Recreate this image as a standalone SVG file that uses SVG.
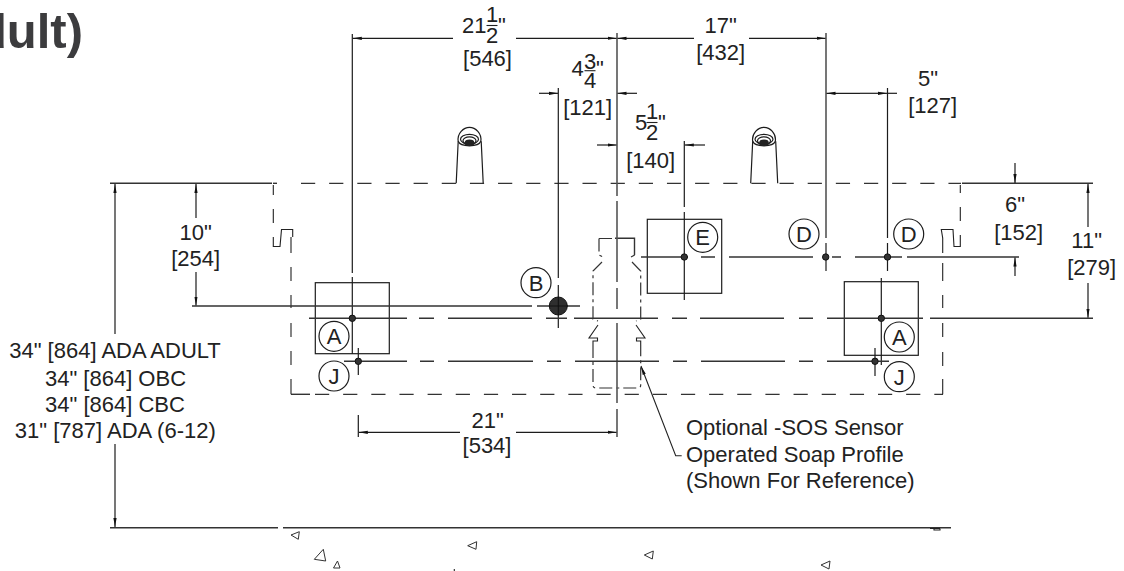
<svg xmlns="http://www.w3.org/2000/svg" width="1124" height="571" viewBox="0 0 1124 571">
<style>
text{font-family:"Liberation Sans",Arial,sans-serif;font-size:22px;fill:#222}
.m{text-anchor:middle}
.t{font-size:49px;font-weight:bold;fill:#3c3c3e;text-anchor:end}
.l{fill:none;stroke:#1c1c1c;stroke-width:1.2}
.c{fill:none;stroke:#555;stroke-width:1.6}
.g{fill:none;stroke:#333;stroke-width:1.4}
.h{fill:none;stroke:#333;stroke-width:1.3;stroke-dasharray:14.2 13.95}
.s{fill:none;stroke:#333;stroke-width:1.2;stroke-dasharray:13 4 3 4}
.b{fill:#fff;stroke:#1c1c1c;stroke-width:1.2}
.k{fill:none;stroke:#222;stroke-width:1.1}
.d{fill:#333;stroke:#111;stroke-width:1}
.a{marker-end:url(#ar)}
.tri{fill:#fff;stroke:#333;stroke-width:1}
</style>
<defs>
<marker id="ar" markerUnits="userSpaceOnUse" markerWidth="10" markerHeight="6" refX="9" refY="2.5" orient="auto"><path d="M0 0.9L9 2.5L0 4.1Z" fill="#111"/></marker>
<g id="spout">
<path class="l" d="M-13.3 0L-11.3 -42M13.7 0L11.7 -42"/>
<path class="l" d="M-11.3 -42C-12.5 -50 -6 -56 0 -56C6 -56 12.5 -50 11.3 -42C9 -36 -9 -36 -11.3 -42Z"/>
<ellipse class="l" cx="0" cy="-44" rx="9" ry="5"/>
<ellipse class="l" cx="0" cy="-42.5" rx="6.5" ry="4"/>
<ellipse cx="0" cy="-40.5" rx="4.8" ry="3.2" fill="#222"/>
</g>
</defs>
<text class="t" x="83" y="48">dult)</text>

<g id="outline">
<path class="g" d="M110 183.3H272M962 183.3H1093M110 527.7H278M283 527.7H951"/>
<path class="h" d="M301 183.3H961"/>
<path class="g" d="M273 183.3H277"/>
<path class="h" d="M315 394.3H943"/>
<path class="g" d="M291 394.3H310"/>
<path class="k" d="M273.3 185V195M273.3 209V223M273.3 237V246.5H280L281.5 229.5H292.7V237M291 237V253M291 267V281M291 295V308M291 323V337M291 351V365M291 379V394.3"/>
<path class="k" d="M960.3 185V193M960.3 207V221M960.3 235V246.5H954L953 229.5H941.3L942.7 238V253M942.7 263V281M942.7 295V308M942.7 323V337M942.7 352V366M942.7 379V394.3"/>
</g>
<g id="spout-left"><use href="#spout" x="469.5" y="183.3"/></g>
<g id="spout-right"><use href="#spout" x="764" y="183.3"/></g>

<g id="box-e"><rect class="b" x="647.3" y="219.3" width="74.4" height="74"/></g>
<g id="box-a-left"><rect class="b" x="315.3" y="282.7" width="74" height="71"/></g>
<g id="box-a-right"><rect class="b" x="844.3" y="281.7" width="74" height="73.6"/></g>

<g id="soap-profile">
<path class="s" d="M599 238.5H615M599 238.5V255L603 257M602 262L593 271V319L598 321"/>
<path class="s" d="M634.7 255L631 257M632 262L640.7 271V319L636 321"/>
<path class="g" d="M615 238.3H634.5V255"/>
<path class="k" d="M598 325L589 338H597.5V341H593V345"/>
<path class="k" d="M636 325L645 338H636.5V341H640.7V345"/>
<path class="s" d="M593 345V385Q593 388 596 388H638Q640.7 388 640.7 385V345"/>
</g>

<g id="connectors">
<path class="c" d="M617 33V196M617 201V282M617 288V309M617 323V403M617 409V437"/>
<path class="c" d="M826 33V238M826 243V271"/>
<path class="l" d="M352.3 34V273M352.3 277V354M558.3 88V278M558.3 285V328M684.3 141V207M684.3 212V300M887.5 88V238M887.5 243V271M881.3 278V365M875 348V376M358.3 348V375M358.3 415V437"/>
<path class="g" d="M192 306H532M537 306H580"/>
<path class="g" d="M309 318.3H407M419 318.3H434M448 318.3H532M546 318.3H567M574 318.3H658M672 318.3H687M700 318.3H784M799 318.3H813M827 318.3H923M930 318.3H1093"/>
<path class="g" d="M344 361.3H407M420 361.3H434M448 361.3H533M547 361.3H561M575 361.3H659M673 361.3H687M701 361.3H785M799 361.3H813M827 361.3H889"/>
<path class="g" d="M641 257H688M701 257H715M729 257H813M832 257H841M855 257H902M907 257H1019"/>
<path class="l a" d="M453 38.3H352.8"/>
<path class="l a" d="M516 38.3H616.5"/><path class="l a" d="M694 38.3H617.5"/>
<path class="l a" d="M749 38.3H825.5"/>
<path class="l a" d="M539 93.3H558"/><path class="l a" d="M637 93.3H617.5"/>
<path class="l a" d="M597 145H616.5"/><path class="l a" d="M705 145H684.8"/>
<path class="l a" d="M860 93.3H826.5"/><path class="l a" d="M860 93.3H887"/><path class="l" d="M887 93.3H897"/>
<path class="l a" d="M1015 163V183"/><path class="l a" d="M1015 276V257.5"/>
<path class="l a" d="M1088 227V184"/><path class="l a" d="M1088 283V317.8"/>
<path class="l a" d="M115 334V184"/><path class="l a" d="M115 444V527"/>
<path class="l a" d="M196 218V184"/><path class="l a" d="M196 272V305.5"/>
<path class="l a" d="M460 432.3H358.8"/><path class="l a" d="M516 432.3H616.5"/>
<path class="k a" d="M681.7 455.7H675.7L641 366"/>
</g>

<g id="points">
<circle class="d" cx="352.3" cy="318.3" r="3.2"/>
<circle class="d" cx="358.3" cy="361.3" r="3.2"/>
<circle class="d" cx="881.3" cy="318.3" r="3.2"/>
<circle class="d" cx="875" cy="361.3" r="3.2"/>
<circle class="d" cx="684.3" cy="257" r="3.2"/>
<circle class="d" cx="825.7" cy="257" r="3.2"/>
<circle class="d" cx="887.5" cy="257" r="3.2"/>
<circle cx="558.3" cy="306" r="9" fill="#2f2f2f" stroke="#111"/>
<path d="M549 306H568M558.3 297V315" stroke="#111" stroke-width="1"/>
</g>

<g id="node-a-left"><circle class="b" cx="334" cy="336.3" r="15"/><text class="m" x="334" y="344.3">A</text></g>
<g id="node-j-left"><circle class="b" cx="334" cy="376" r="15"/><text class="m" x="334" y="384">J</text></g>
<g id="node-a-right"><circle class="b" cx="899.3" cy="337" r="15"/><text class="m" x="899.3" y="345">A</text></g>
<g id="node-j-right"><circle class="b" cx="899.3" cy="376.7" r="15"/><text class="m" x="899.3" y="384.7">J</text></g>
<g id="node-b"><circle class="b" cx="536" cy="282.7" r="15"/><text class="m" x="536" y="290.7">B</text></g>
<g id="node-e"><circle class="b" cx="702.7" cy="237.3" r="15"/><text class="m" x="702.7" y="245.3">E</text></g>
<g id="node-d-left"><circle class="b" cx="804" cy="234" r="15"/><text class="m" x="804" y="242">D</text></g>
<g id="node-d-right"><circle class="b" cx="908.7" cy="234" r="15"/><text class="m" x="908.7" y="242">D</text></g>

<g id="labels">
<text x="462" y="33">21</text><text class="m" x="492" y="22">1</text><text class="m" x="492" y="43">2</text><path class="k" d="M486.5 25.5H497.5"/><text x="498" y="33">"</text>
<text class="m" x="487.5" y="66">[546]</text>
<text class="m" x="720.7" y="33">17"</text><text class="m" x="720.7" y="60">[432]</text>
<text x="571.5" y="76">4</text><text class="m" x="590" y="69">3</text><text class="m" x="590" y="88">4</text><path class="k" d="M584.5 70.7H595.5"/><text x="596" y="76">"</text>
<text class="m" x="587.7" y="115">[121]</text>
<text x="635" y="130">5</text><text class="m" x="652" y="119">1</text><text class="m" x="652" y="140">2</text><path class="k" d="M646.5 122.5H657.5"/><text x="658" y="130">"</text>
<text class="m" x="650.7" y="168">[140]</text>
<text class="m" x="928" y="86">5"</text><text class="m" x="932.7" y="113">[127]</text>
<text class="m" x="1015" y="212">6"</text><text class="m" x="1018.7" y="240">[152]</text>
<text class="m" x="1086.7" y="248">11"</text><text class="m" x="1091.7" y="275">[279]</text>
<text class="m" x="195.7" y="240">10"</text><text class="m" x="195.7" y="266">[254]</text>
<text class="m" x="487.7" y="427.7">21"</text><text class="m" x="487" y="453">[534]</text>
<text class="m" x="115" y="357.7">34" [864] ADA ADULT</text>
<text class="m" x="115.5" y="386">34" [864] OBC</text>
<text class="m" x="115" y="412">34" [864] CBC</text>
<text class="m" x="115.3" y="438">31" [787] ADA (6-12)</text>
<text x="686" y="435">Optional -SOS Sensor</text>
<text x="686" y="461.7">Operated Soap Profile</text>
<text x="686" y="488">(Shown For Reference)</text>
</g>

<g id="debris">
<path class="tri" d="M291 535L299.3 531.7L298.3 539.3Z"/>
<path class="tri" d="M323.3 549.3L314.3 559.3L325.7 561Z"/>
<path class="tri" d="M337.5 561L333.5 568L340 568Z"/>
<path class="tri" d="M467.7 545.7L476.7 541.7L476 549.3Z"/>
<path class="tri" d="M644.3 555L653.3 551L652.3 559Z"/>
<path class="tri" d="M821 565L830 561L829 569Z"/>
<path class="k" d="M454.3 569V571M930 528.5H940M934 528.5V530H940V528.5"/>
</g>
</svg>
